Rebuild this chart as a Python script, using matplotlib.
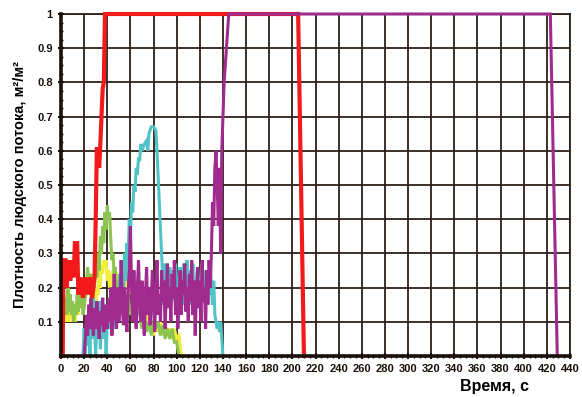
import matplotlib
matplotlib.use("Agg")
import matplotlib.pyplot as plt
import numpy as np

plt.rcParams['font.family'] = ['Liberation Sans', 'DejaVu Sans']

# ---- data ----
red_t = [0, 1.5, 2, 4, 5, 6, 8, 9, 11, 12, 14, 15, 17, 19, 21, 23, 25, 27, 29, 30, 31, 33, 34, 35, 36, 37, 38, 205, 210]
red_v = [0, 0, 0.28, 0.28, 0.2, 0.28, 0.22, 0.28, 0.23, 0.33, 0.33, 0.18, 0.23, 0.17, 0.23, 0.18, 0.23, 0.17, 0.23, 0.4, 0.61, 0.55, 0.62, 0.7, 0.78, 0.8, 1.0, 1.0, 0.0]

purple_t = list(range(20, 140)) + [141, 145, 423, 429]
purple_v = [0.0, 0.05, 0.12, 0.06, 0.15, 0.08, 0.17, 0.1, 0.06, 0.14, 0.08, 0.16, 0.1, 0.05, 0.13, 0.09, 0.17, 0.07, 0.12, 0.15,
            0.08, 0.17, 0.1, 0.2, 0.06, 0.15, 0.24, 0.12, 0.08, 0.2, 0.1, 0.15, 0.28, 0.14, 0.09, 0.2, 0.12, 0.07, 0.18, 0.26,
            0.38, 0.2, 0.1, 0.25, 0.14, 0.08, 0.2, 0.28, 0.16, 0.1, 0.22, 0.13, 0.06, 0.18, 0.26, 0.12, 0.2, 0.09, 0.17, 0.25,
            0.14, 0.07, 0.2, 0.28, 0.12, 0.18, 0.1, 0.25, 0.16, 0.22, 0.08, 0.18, 0.27, 0.14, 0.2, 0.1, 0.24, 0.17, 0.28, 0.12,
            0.2, 0.08, 0.16, 0.25, 0.12, 0.22, 0.18, 0.27, 0.13, 0.2, 0.1, 0.24, 0.16, 0.28, 0.12, 0.22, 0.06, 0.18, 0.26, 0.14,
            0.22, 0.1, 0.28, 0.16, 0.2, 0.08, 0.25, 0.15, 0.28, 0.2, 0.3, 0.45, 0.38, 0.55, 0.6, 0.5, 0.38, 0.55, 0.3, 0.6,
            0.8, 1.0, 1.0, 0.0]

cyan_t = (list(range(19, 71)) + [72, 74, 75, 76, 78, 80, 82, 83, 88] + list(range(89, 141)))
cyan_v = [0.0, 0.08, 0.0, 0.1, 0.03, 0.12, 0.0, 0.15, 0.05, 0.17, 0.08, 0.0, 0.12, 0.06, 0.16, 0.02, 0.1, 0.17, 0.05, 0.12,
          0.0, 0.1, 0.15, 0.08, 0.17, 0.1, 0.14,
          0.08, 0.18, 0.12, 0.2, 0.1, 0.24, 0.15, 0.25, 0.18, 0.3, 0.22, 0.33, 0.28, 0.4, 0.35, 0.45, 0.42, 0.5, 0.48, 0.55,
          0.53, 0.58, 0.57, 0.62, 0.6,
          0.62, 0.63, 0.6, 0.65, 0.67, 0.67, 0.66, 0.6, 0.22,
          0.15, 0.27, 0.18, 0.22, 0.15, 0.26, 0.2, 0.16, 0.25, 0.18, 0.27, 0.2, 0.14, 0.22, 0.26, 0.17, 0.2, 0.27, 0.15, 0.22,
          0.28, 0.18, 0.25, 0.15, 0.2, 0.27, 0.16, 0.22, 0.18, 0.26, 0.2, 0.14, 0.22, 0.27, 0.17, 0.2, 0.25, 0.15, 0.22, 0.18,
          0.26, 0.2, 0.15, 0.22, 0.12, 0.1, 0.08, 0.1, 0.07, 0.1, 0.05, 0.0]

green_t = list(range(0, 21)) + list(range(22, 49)) + list(range(50, 101, 2)) + [101, 102]
green_v = [0.27, 0.15, 0.2, 0.15, 0.17, 0.12, 0.2, 0.13, 0.18, 0.12, 0.16, 0.1, 0.15, 0.12, 0.18, 0.13, 0.19, 0.14, 0.2, 0.12, 0.14,
           0.2, 0.26, 0.2, 0.24, 0.22, 0.18, 0.24, 0.2, 0.28, 0.23, 0.3, 0.25, 0.35, 0.3, 0.38, 0.33, 0.42, 0.37, 0.44, 0.4,
           0.42, 0.34, 0.28, 0.3, 0.23, 0.26, 0.2,
           0.22, 0.15, 0.2, 0.13, 0.18, 0.12, 0.16, 0.1, 0.15, 0.12, 0.08, 0.12, 0.07, 0.1, 0.06, 0.1, 0.08, 0.1, 0.06, 0.09,
           0.05, 0.08, 0.05, 0.08, 0.04, 0.04,
           0.02, 0.0]

yellow_t = list(range(1, 49)) + list(range(50, 103, 2)) + [103, 104]
yellow_v = [0.14, 0.15, 0.1, 0.13, 0.1, 0.15, 0.12, 0.1, 0.14, 0.11, 0.15, 0.1, 0.13, 0.16, 0.12, 0.18, 0.14, 0.2, 0.15, 0.22,
            0.17, 0.2, 0.25, 0.18, 0.22, 0.15, 0.2, 0.12, 0.18, 0.15, 0.2, 0.18, 0.25, 0.2, 0.27, 0.24, 0.28, 0.26, 0.28, 0.22,
            0.25, 0.2, 0.24, 0.2, 0.25, 0.22, 0.26, 0.2,
            0.24, 0.18, 0.25, 0.2, 0.24, 0.18, 0.22, 0.15, 0.2, 0.13, 0.18, 0.12, 0.15, 0.08, 0.1, 0.06, 0.1, 0.07, 0.1, 0.06,
            0.1, 0.06, 0.08, 0.05, 0.08, 0.05, 0.06,
            0.03, 0.0]

x_ticks = list(range(0, 441, 20))
y_ticks = [0.1, 0.2, 0.3, 0.4, 0.5, 0.6, 0.7, 0.8, 0.9, 1.0]
y_tick_labels = ['0.1', '0.2', '0.3', '0.4', '0.5', '0.6', '0.7', '0.8', '0.9', '1']

# ---- figure ----
fig = plt.figure(figsize=(5.82, 3.97), dpi=100)
ax = fig.add_axes([61 / 582, 41 / 397, 509 / 582, 342 / 397])

grid_col = '#2e2018'
ax.set_xlim(0, 440)
ax.set_ylim(0, 1.0)
ax.set_xticks(x_ticks)
ax.set_yticks(y_ticks)
ax.set_yticklabels(y_tick_labels)
ax.set_xticks(np.arange(0, 441, 5), minor=True)
ax.set_yticks(np.arange(0, 1.001, 0.025), minor=True)
ax.grid(True, which='major', color=grid_col, linewidth=1.3)
ax.set_axisbelow(True)

lw = 2.2
common = dict(solid_joinstyle='miter', clip_on=False)
ax.plot(yellow_t, yellow_v, color='#F2EC3C', lw=lw, **common)
ax.plot(green_t, green_v, color='#8CC451', lw=lw, **common)
ax.plot(cyan_t, cyan_v, color='#4FC3C8', lw=lw, **common)
ax.plot(red_t, red_v, color='#F21A1A', lw=3.0, **common)
ax.plot(purple_t, purple_v, color='#A12A8E', lw=lw, **common)

for s in ['left', 'bottom']:
    ax.spines[s].set_linewidth(2.6)
    ax.spines[s].set_color('#1a100c')
    ax.spines[s].set_zorder(5)
for s in ['top', 'right']:
    ax.spines[s].set_linewidth(1.3)
    ax.spines[s].set_color(grid_col)
    ax.spines[s].set_zorder(0.5)

ax.tick_params(axis='both', which='major', length=4, width=1.5, direction='inout', colors='#1a100c',
               labelsize=8, pad=4)
ax.tick_params(axis='both', which='minor', length=2.5, width=1.0, direction='inout', colors='#1a100c')
ax.tick_params(axis='x', which='both', top=False)
ax.tick_params(axis='y', which='both', right=False)
for lab in ax.get_xticklabels() + ax.get_yticklabels():
    lab.set_fontweight('bold')

ax.set_ylabel('Плотность людского потока, м²/м²', fontsize=10.5, fontweight='bold', labelpad=7)
fig.text(495 / 582, 1 - 386 / 397, 'Время, с', fontsize=11.5, fontweight='bold', ha='center', va='center')

fig.savefig('out.png', dpi=100)
